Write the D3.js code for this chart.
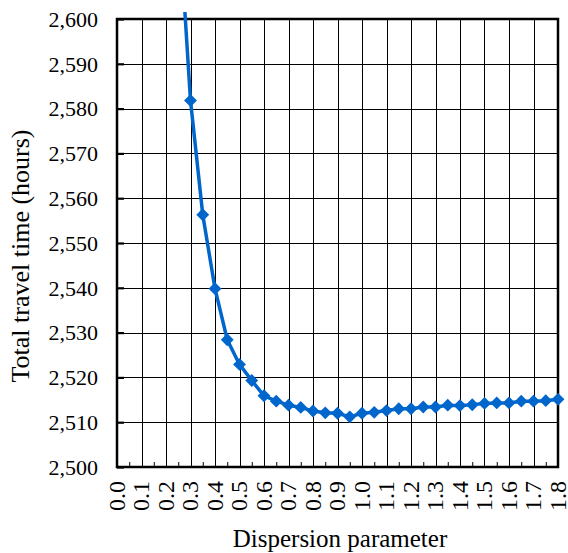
<!DOCTYPE html>
<html>
<head>
<meta charset="utf-8">
<script src="https://cdn.jsdelivr.net/npm/d3@7/dist/d3.min.js"></script>
<style>
  html, body { margin: 0; padding: 0; background: #fff; }
  svg { display: block; }
  svg text { font-family: "Liberation Serif", "Times New Roman", Times, serif !important; fill: #000; }
</style>
</head>
<body>
<svg id="chart" width="568" height="553"></svg>
<script>
const dispersion = [0.25, 0.30, 0.35, 0.40, 0.45, 0.50, 0.55, 0.60, 0.65, 0.70, 0.75, 0.80, 0.85, 0.90, 0.95,
  1.00, 1.05, 1.10, 1.15, 1.20, 1.25, 1.30, 1.35, 1.40, 1.45, 1.50, 1.55, 1.60, 1.65, 1.70, 1.75, 1.80];
const travelTime = [2625, 2581.8, 2556.3, 2539.8, 2528.4, 2522.9, 2519.3, 2515.9, 2514.7, 2513.8, 2513.3, 2512.5, 2512.1, 2512.0, 2511.2,
  2512.0, 2512.2, 2512.6, 2513.0, 2513.0, 2513.4, 2513.4, 2513.8, 2513.7, 2513.9, 2514.2, 2514.3, 2514.3, 2514.7, 2514.7, 2514.8, 2515.1];
const xTicks = [0.0,0.1,0.2,0.3,0.4,0.5,0.6,0.7,0.8,0.9,1.0,1.1,1.2,1.3,1.4,1.5,1.6,1.7,1.8];
const xTickLabels = ["0.0","0.1","0.2","0.3","0.4","0.5","0.6","0.7","0.8","0.9","1.0","1.1","1.2","1.3","1.4","1.5","1.6","1.7","1.8"];
const xMinorTicks = [0.05,0.15,0.25,0.35,0.45,0.55,0.65,0.75,0.85,0.95,1.05,1.15,1.25,1.35,1.45,1.55,1.65,1.75];
const yTicks = [2500, 2510, 2520, 2530, 2540, 2550, 2560, 2570, 2580, 2590, 2600];
const yTickLabels = ["2,500","2,510","2,520","2,530","2,540","2,550","2,560","2,570","2,580","2,590","2,600"];
const xTitle = "Dispersion parameter";
const yTitle = "Total travel time (hours)";

const FONT = "'Liberation Serif', 'Times New Roman', serif";
const svg = d3.select("#chart");
const L = 117, R = 558, T = 19, B = 467;
const x = d3.scaleLinear().domain([0, 1.8]).range([L, R]);
const y = d3.scaleLinear().domain([2500, 2600]).range([B, T]);
const color = "#0066CC";

// gridlines
const grid = svg.append("g");
grid.selectAll("line.v").data(xTicks).join("line")
  .attr("x1", d => Math.round(x(d)) + 0.5).attr("x2", d => Math.round(x(d)) + 0.5)
  .attr("y1", T).attr("y2", B).attr("stroke", "#000").attr("stroke-width", 1);
grid.selectAll("line.h").data(yTicks).join("line")
  .attr("x1", L).attr("x2", R)
  .attr("y1", d => Math.round(y(d)) + 0.5).attr("y2", d => Math.round(y(d)) + 0.5)
  .attr("stroke", "#000").attr("stroke-width", 1);

// y ticks (inside)
const yAxis = d3.axisRight(y).tickValues(yTicks).tickSize(7).tickFormat("");
const ya = svg.append("g").attr("transform", `translate(${L},0)`).call(yAxis);
ya.select(".domain").remove();
ya.selectAll("line").attr("stroke", "#000").attr("stroke-width", 2.2);

// x minor ticks (inside)
const xMinorAxis = d3.axisTop(x).tickValues(xMinorTicks).tickSize(5).tickFormat("");
const xm = svg.append("g").attr("transform", `translate(0,${B})`).call(xMinorAxis);
xm.select(".domain").remove();
xm.selectAll("line").attr("stroke", "#000").attr("stroke-width", 1);

// border
svg.append("rect").attr("x", L).attr("y", T).attr("width", R - L).attr("height", B - T)
  .attr("fill", "none").attr("stroke", "#000").attr("stroke-width", 2.5);

// y labels
svg.append("g").selectAll("text").data(yTicks).join("text")
  .attr("x", 98).attr("y", d => y(d)).attr("dy", "0.35em")
  .attr("text-anchor", "end").attr("font-size", 22).attr("font-family", FONT)
  .text((d, i) => yTickLabels[i]);

// x labels (rotated)
svg.append("g").selectAll("text").data(xTicks).join("text")
  .attr("transform", d => `translate(${x(d) + 7.5},481) rotate(-90)`)
  .attr("text-anchor", "end").attr("font-size", 24).attr("font-family", FONT)
  .text((d, i) => xTickLabels[i]);

// titles
svg.append("text").attr("x", 340).attr("y", 547).attr("text-anchor", "middle")
  .attr("font-size", 25).attr("font-family", FONT).text(xTitle);
svg.append("text").attr("transform", `translate(29,256) rotate(-90)`)
  .attr("text-anchor", "middle").attr("font-size", 26).attr("font-family", FONT).text(yTitle);

// series
svg.append("clipPath").attr("id", "clip").append("rect")
  .attr("x", L - 10).attr("y", 12).attr("width", R - L + 20).attr("height", B - 12 + 10);
const pts = dispersion.map((d, i) => [d, travelTime[i]]);
const series = svg.append("g").attr("clip-path", "url(#clip)");
series.append("path").datum(pts)
  .attr("d", d3.line().x(d => x(d[0])).y(d => y(d[1])))
  .attr("fill", "none").attr("stroke", color).attr("stroke-width", 3.5).attr("stroke-linejoin", "round");
series.selectAll("path.m").data(pts.filter(d => d[1] <= 2600)).join("path")
  .attr("class", "m")
  .attr("d", d3.symbol().type(d3.symbolDiamond2).size(105))
  .attr("transform", d => `translate(${x(d[0])},${y(d[1])})`)
  .attr("fill", color);
</script>
</body>
</html>
